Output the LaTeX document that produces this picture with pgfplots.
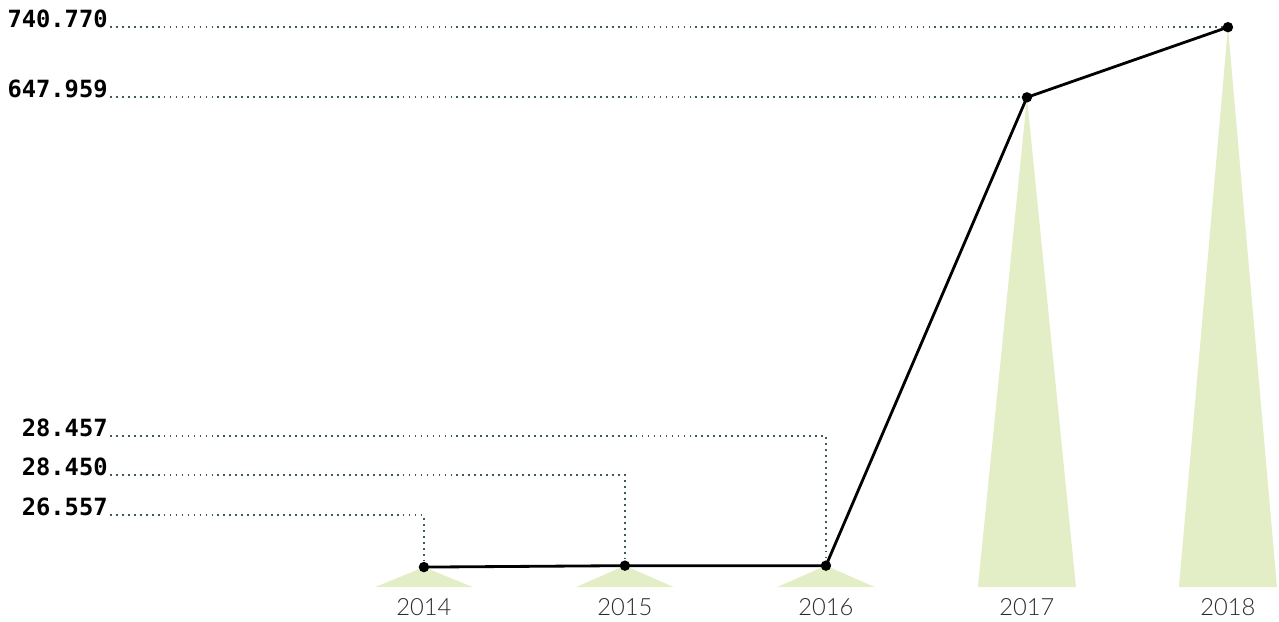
\documentclass[border=0pt]{standalone}
\usepackage{fontspec}
\setmainfont{Lato Light}
\newfontfamily\monof{DejaVu Sans Mono}
\usepackage{pgfplots}
\pgfplotsset{compat=1.18}
\definecolor{spike}{HTML}{E3EEC7}
\definecolor{lead}{HTML}{3F5A5A}
\definecolor{ticktxt}{HTML}{2A2A2A}
\begin{document}
\begin{tikzpicture}
\begin{axis}[
    scale only axis,
    width=255.8mm, height=124mm,
    xmin=-2.109, xmax=4.254,
    ymin=-43.65, ymax=776.5,
    axis line style={draw=none},
    major tick length=0pt,
    ytick=\empty,
    xtick={0,1,2,3,4},
    xticklabels={2014,2015,2016,2017,2018},
    xticklabel style={font=\fontsize{13.5}{14}\selectfont, text=ticktxt, yshift=5.5mm},
    clip=false,
]
% spikes
\addplot[fill=spike, draw=none] coordinates {(-0.244,0)(0,26.557)(0.244,0)} --cycle;
\addplot[fill=spike, draw=none] coordinates {(0.756,0)(1,28.450)(1.244,0)} --cycle;
\addplot[fill=spike, draw=none] coordinates {(1.756,0)(2,28.457)(2.244,0)} --cycle;
\addplot[fill=spike, draw=none] coordinates {(2.756,0)(3,647.959)(3.244,0)} --cycle;
\addplot[fill=spike, draw=none] coordinates {(3.756,0)(4,740.770)(4.244,0)} --cycle;
% leaders
\pgfplotsset{leader/.style={lead, line width=1pt, dash pattern=on 1pt off 2.4pt}}
\addplot[leader] coordinates {(-1.562,95.2)(0,95.2)(0,26.557)};
\addplot[leader] coordinates {(-1.562,148.1)(1,148.1)(1,28.450)};
\addplot[leader] coordinates {(-1.562,199.7)(2,199.7)(2,28.457)};
\addplot[leader] coordinates {(-1.562,647.959)(3,647.959)};
\addplot[leader] coordinates {(-1.562,740.770)(4,740.770)};
% main line
\addplot[black, line width=1.6pt, mark=*, mark size=2.1pt] coordinates {
    (0,26.557)(1,28.450)(2,28.457)(3,647.959)(4,740.770)};
% value labels
\begin{scope}[every node/.style={anchor=base east, inner sep=0pt, font=\monof\bfseries\fontsize{13.5}{14}\selectfont}]
\node at (axis cs:-1.572,740.770) {740.770};
\node at (axis cs:-1.572,647.959) {647.959};
\node at (axis cs:-1.572,199.7) {28.457};
\node at (axis cs:-1.572,148.1) {28.450};
\node at (axis cs:-1.572,95.2) {26.557};
\end{scope}
\end{axis}
\end{tikzpicture}
\end{document}
